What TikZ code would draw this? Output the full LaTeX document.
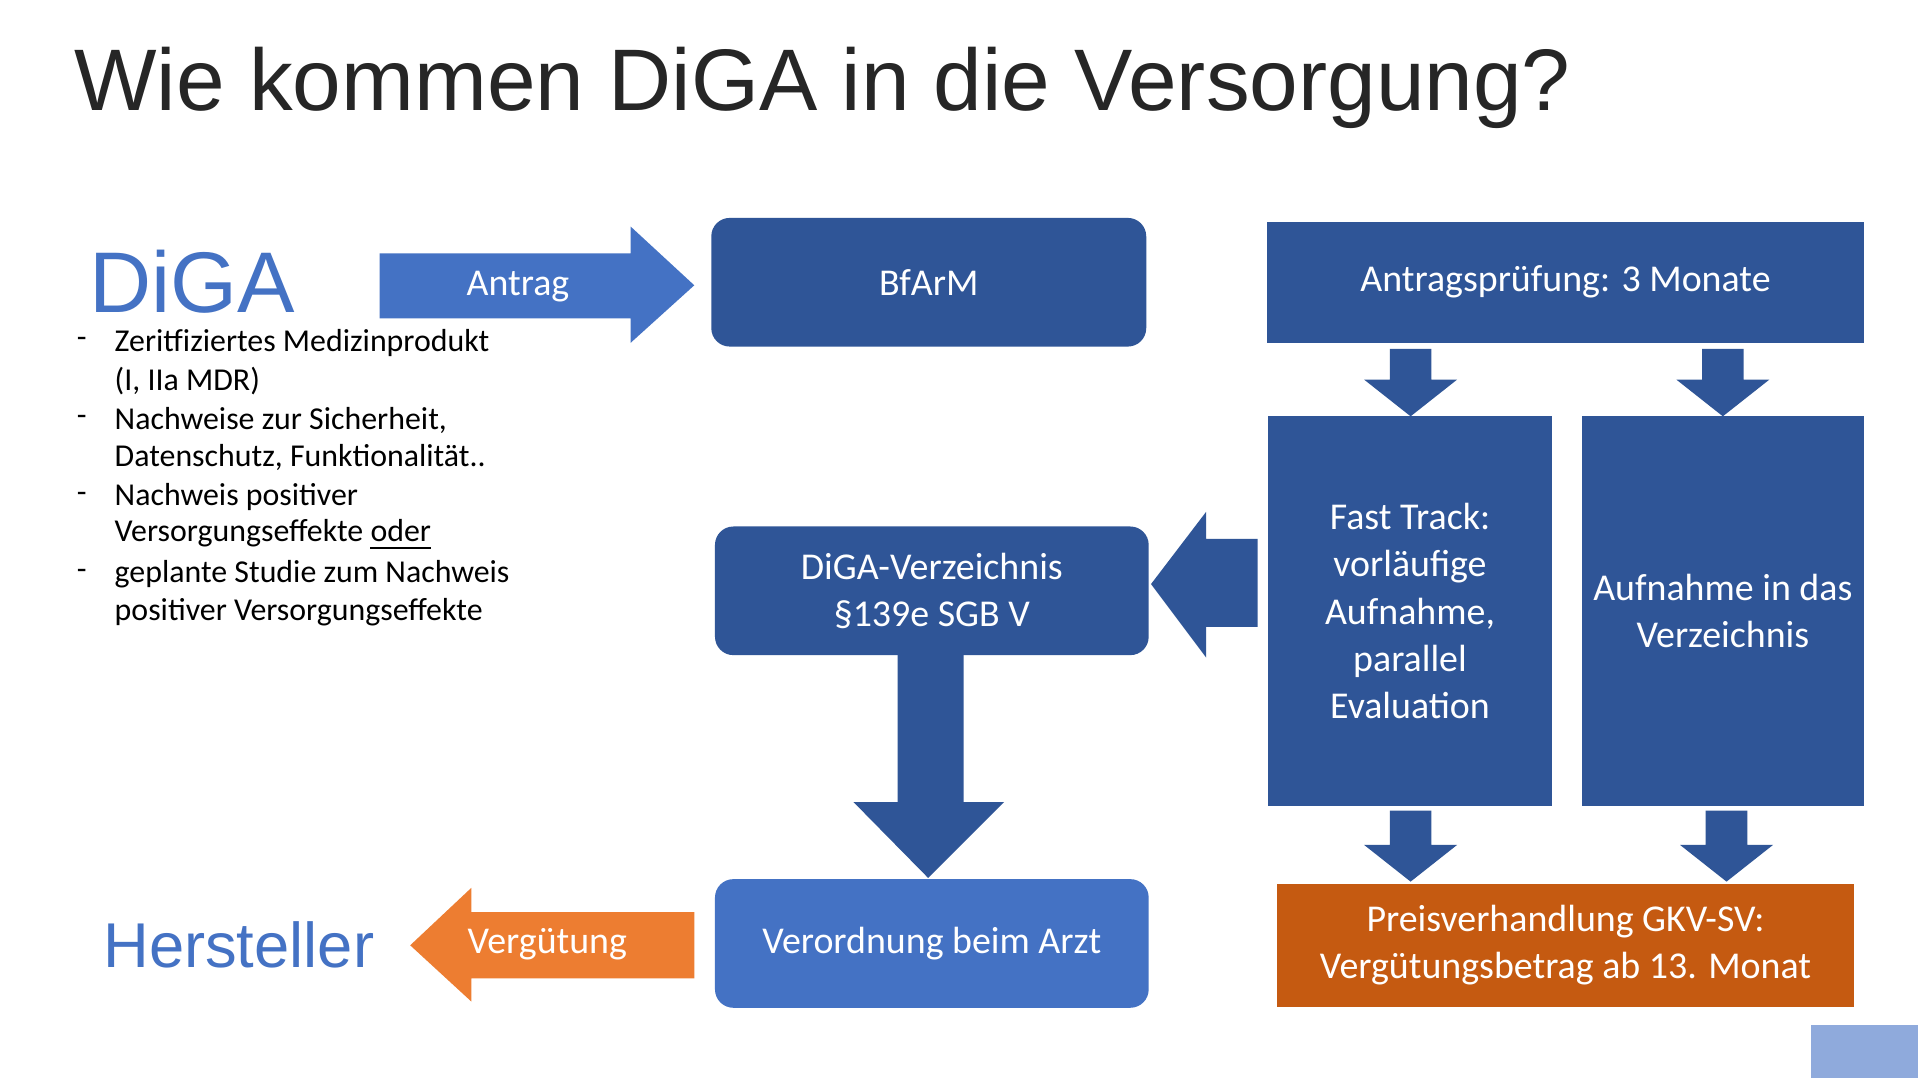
\documentclass[tikz,border=0pt]{standalone}
\usepackage{fontspec}
\setmainfont{Carlito}
\newfontfamily\arialfont{Liberation Sans}
\usetikzlibrary{positioning}
\definecolor{darkblue}{HTML}{2F5597}
\definecolor{midblue}{HTML}{4472C4}
\definecolor{lightblue}{HTML}{8FAADC}
\definecolor{darkorange}{HTML}{C55A11}
\definecolor{lightorange}{HTML}{ED7D31}

\begin{document}
\begin{tikzpicture}[x=0.01cm, y=-0.01cm,
    box/.style={fill=darkblue, text=white, inner sep=0pt, align=center, font=\fontsize{8.8pt}{11pt}\selectfont},
    roundbox/.style={box, rounded corners=0.15cm},
    blockarrow/.style={fill=darkblue},
    bullet/.style={anchor=west, inner sep=0pt, font=\fontsize{7.4pt}{8pt}\selectfont}
]
\useasboundingbox (0,0) rectangle (1568,882);
\fill[white] (0,0) rectangle (1568,882);

% Title
\node[anchor=west, inner sep=0pt, font=\arialfont\fontsize{20.3pt}{24pt}\selectfont, text=black!85] (title) at (60,72) {Wie kommen DiGA in die Versorgung?};

% Left side
\node[anchor=west, inner sep=0pt, font=\arialfont\fontsize{20pt}{22pt}\selectfont, text=midblue] (diga) at (72,230) {DiGA};
\node[anchor=center, inner sep=0pt, font=\arialfont\fontsize{14.7pt}{17pt}\selectfont, text=midblue] (hersteller) at (195,772) {Hersteller};

\foreach \y/\dash/\txt in {280/-/{Zeritfiziertes Medizinprodukt}, 311//{(I, IIa MDR)},
    343/-/{Nachweise zur Sicherheit,}, 374//{Datenschutz, Funktionalität..},
    406/-/{Nachweis positiver}, 437//{Versorgungseffekte \underline{oder}},
    469/-/{geplante Studie zum Nachweis}, 500//{positiver Versorgungseffekte}}{
  \node[bullet] at (62,\y) {\dash};
  \node[bullet] at (93,\y) {\txt};
}

% Boxes
\node[roundbox, minimum width=3.55cm, minimum height=1.05cm] (bfarm) at (758.5,230.5) {BfArM};
\node[box, minimum width=4.87cm, minimum height=0.99cm] (pruefung) at (1278.5,230.5) {Antragsprüfung: 3 Monate};
\node[box, minimum width=2.31cm, minimum height=3.18cm] (fasttrack) at (1151.5,499) {Fast Track:\\vorläufige\\Aufnahme,\\parallel\\Evaluation};
\node[box, minimum width=2.30cm, minimum height=3.18cm] (aufnahme) at (1407,499) {Aufnahme in das\\Verzeichnis};
\node[roundbox, minimum width=3.54cm, minimum height=1.05cm] (verzeichnis) at (761,482.5) {DiGA-Verzeichnis\\§139e SGB V};
\node[roundbox, fill=midblue, minimum width=3.54cm, minimum height=1.05cm] (verordnung) at (761,770.5) {Verordnung beim Arzt};
\node[box, fill=darkorange, minimum width=4.71cm, minimum height=1.00cm] (preis) at (1278.5,772) {Preisverhandlung GKV-SV:\\Vergütungsbetrag ab 13. Monat};
\fill[lightblue] (1479,837) rectangle (1566,880);

% Block arrows
\fill[midblue] (310,207) -- (515,207) -- (515,185) -- (567,233) -- (515,280) -- (515,260) -- (310,260) -- cycle;
\node[text=white, font=\fontsize{8.8pt}{10pt}\selectfont] (antrag) at (423,234) {Antrag};
\fill[lightorange] (567,745) -- (385,745) -- (385,725) -- (335,772) -- (385,818) -- (385,799) -- (567,799) -- cycle;
\node[text=white, font=\fontsize{8.8pt}{10pt}\selectfont] (verguetung) at (447,771) {Vergütung};
\foreach \x/\ya/\yb/\yc in {1152/285/310/340, 1407/285/310/340, 1152/662/690/720, 1410/662/690/720}{
  \fill[blockarrow] (\x-17,\ya) -- (\x+17,\ya) -- (\x+17,\yb) -- (\x+38,\yb) -- (\x,\yc) -- (\x-38,\yb) -- (\x-17,\yb) -- cycle;
}
\fill[blockarrow] (1027,440) -- (985,440) -- (985,418) -- (940,477) -- (985,537) -- (985,512) -- (1027,512) -- cycle;
\fill[blockarrow] (733,535) -- (787,535) -- (787,655) -- (820,655) -- (758,717) -- (697,655) -- (733,655) -- cycle;
\end{tikzpicture}
\end{document}
